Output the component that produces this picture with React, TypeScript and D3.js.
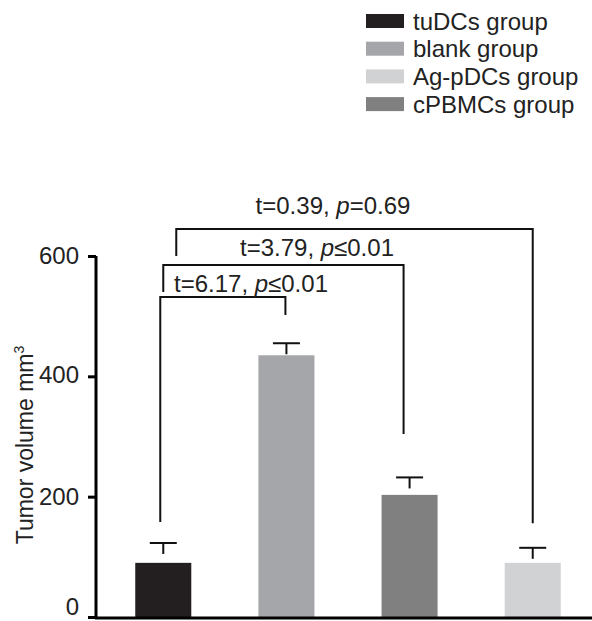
import React, { useRef, useEffect } from "react";
import * as d3 from "d3";

const categories = ["tuDCs group", "blank group", "cPBMCs group", "Ag-pDCs group"];
const means = [90, 435, 203, 90];
const errTops = [123, 455, 232, 115];
const colors = ["#231f20", "#a5a6aa", "#808080", "#d1d2d4"];
const legendOrder = ["tuDCs group", "blank group", "Ag-pDCs group", "cPBMCs group"];
const yTicks = [0, 200, 400, 600];

// comparisons between bars
const compFrom = [0, 0, 0];
const compTo = [1, 2, 3];
const compLevel = [532, 585, 645];
const compLeftBottom = [158, 540, 600];
const compRightBottom = [502, 304, 156];
const compT = ["6.17", "3.79", "0.39"];
const compOp = ["≤", "≤", "="];
const compP = ["0.01", "0.01", "0.69"];

const W = 592;
const H = 621;
const FONT = "Liberation Sans, Arial, sans-serif";

export default function App() {
  const ref = useRef<SVGSVGElement>(null);
  useEffect(() => {
    const svg = d3.select(ref.current);
    svg.selectAll("*").remove();

    const x = d3.scaleBand<string>().domain(categories).range([102, 594]).paddingInner(0.545).paddingOuter(0.27);
    const y = d3.scaleLinear().domain([0, 600]).range([617, 256]);
    const cx = (i: number) => (x(categories[i]) as number) + x.bandwidth() / 2;

    // bars
    svg.append("g").selectAll("rect").data(categories).join("rect")
      .attr("x", (d) => x(d) as number)
      .attr("width", x.bandwidth())
      .attr("y", (d, i) => y(means[i]))
      .attr("height", (d, i) => y(0) - y(means[i]))
      .attr("fill", (d, i) => colors[i]);

    // error bars (short stem below the cap, as in the original)
    const eg = svg.append("g").attr("stroke", "#111").attr("stroke-width", 2);
    categories.forEach((c, i) => {
      const top = y(errTops[i]);
      const stemEnd = Math.min(y(means[i]), top + 11);
      eg.append("line").attr("x1", cx(i)).attr("x2", cx(i)).attr("y1", stemEnd).attr("y2", top);
      eg.append("line").attr("x1", cx(i) - 13.5).attr("x2", cx(i) + 13.5).attr("y1", top).attr("y2", top);
    });

    // axes
    const yAxis = d3.axisLeft(y).tickValues(yTicks).tickSize(8).tickPadding(9).tickFormat(d3.format("d"));
    const ag = svg.append("g").attr("transform", "translate(96,0)").call(yAxis);
    ag.select(".domain").attr("stroke-width", 3).attr("d", `M0,${y(600)}V${y(0) + 2}`);
    ag.selectAll(".tick line").attr("stroke-width", 3);
    ag.selectAll(".tick text").attr("font-family", FONT).attr("font-size", 24).attr("fill", "#222")
      .attr("y", (d: any) => (d === 0 ? -10 : d === 400 ? -2 : 0));
    svg.append("line").attr("x1", 95).attr("x2", 592).attr("y1", y(0) + 1).attr("y2", y(0) + 1)
      .attr("stroke", "#000").attr("stroke-width", 3);

    // y label
    const yl = svg.append("text").attr("transform", "translate(33,445) rotate(-90)")
      .attr("text-anchor", "middle").attr("font-family", FONT).attr("font-size", 23).attr("fill", "#222");
    yl.append("tspan").text("Tumor volume mm");
    yl.append("tspan").attr("dy", -9).attr("font-size", 14).text("3");

    // brackets
    const leftOff = [-3, 0, 13];
    const rightOff = [-1, -6, 0];
    const bg = svg.append("g").attr("stroke", "#111").attr("stroke-width", 2).attr("fill", "none");
    compFrom.forEach((f, k) => {
      const x1 = cx(f) + leftOff[k];
      const x2 = cx(compTo[k]) + rightOff[k];
      const yy = y(compLevel[k]);
      bg.append("path").attr("d", `M${x1},${y(compLeftBottom[k])}V${yy}H${x2}V${y(compRightBottom[k])}`);
    });
    const textCenters = [251, 317, 333];
    const textOffsets = [5, 9, 15];
    compFrom.forEach((f, k) => {
      const t = svg.append("text").attr("x", textCenters[k]).attr("y", y(compLevel[k]) - textOffsets[k])
        .attr("text-anchor", "middle").attr("font-family", FONT).attr("font-size", 24).attr("fill", "#222");
      t.append("tspan").text(`t=${compT[k]}, `);
      t.append("tspan").attr("font-style", "italic").text("p");
      t.append("tspan").text(`${compOp[k]}${compP[k]}`);
    });

    // legend
    const lg = svg.append("g");
    legendOrder.forEach((name, i) => {
      const ci = categories.indexOf(name);
      const yc = 21 + i * 27.7;
      lg.append("rect").attr("x", 366).attr("y", yc - 7).attr("width", 38).attr("height", 14).attr("fill", colors[ci]);
      lg.append("text").attr("x", 413).attr("y", yc + 8.5).attr("font-family", FONT).attr("font-size", 24)
        .attr("fill", "#222").text(name);
    });
  }, []);
  return (
    <svg ref={ref} width={W} height={H} style={{ position: "absolute", left: 0, top: 0, background: "#fff" }} />
  );
}
